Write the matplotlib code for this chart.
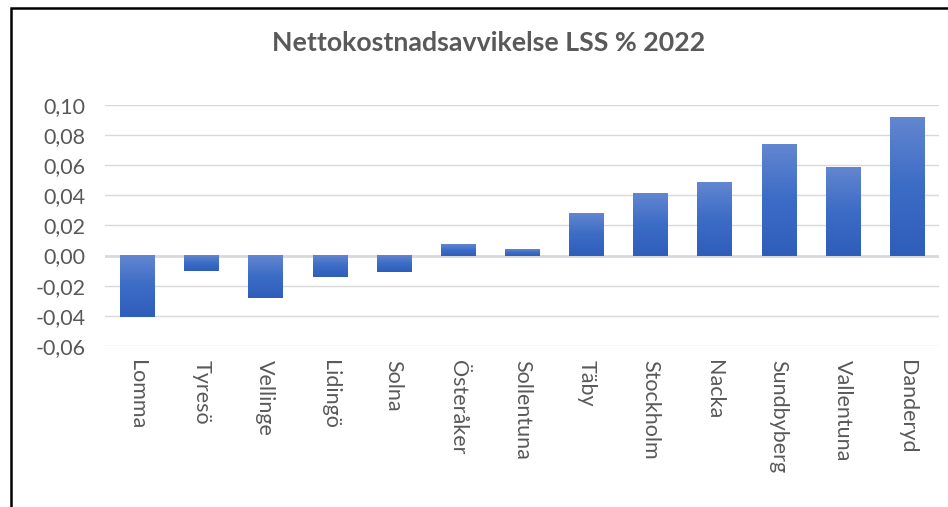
import numpy as np
import matplotlib.pyplot as plt
from matplotlib.colors import LinearSegmentedColormap
from matplotlib.patches import Rectangle
from matplotlib.ticker import FuncFormatter

kommuner = ["Lomma", "Tyresö", "Vellinge", "Lidingö", "Solna", "Österåker",
            "Sollentuna", "Täby", "Stockholm", "Nacka", "Sundbyberg",
            "Vallentuna", "Danderyd"]
avvikelse = [-0.041, -0.010, -0.028, -0.014, -0.011, 0.0075,
             0.0045, 0.028, 0.0415, 0.049, 0.0742, 0.0589, 0.0922]
yticks = [-0.06, -0.04, -0.02, 0.00, 0.02, 0.04, 0.06, 0.08, 0.10]
title = "Nettokostnadsavvikelse LSS % 2022"

plt.rcParams["font.family"] = ["Lato", "DejaVu Sans"]
txt = "#595959"
grid = "#d9d9d9"

fig = plt.figure(figsize=(9.48, 5.07), dpi=100, facecolor="white")
ax = fig.add_axes([105 / 948, 1 - 345.7 / 507, (939 - 105) / 948, (345.7 - 105.3) / 507])

cmap = LinearSegmentedColormap.from_list("bar", ["#2f5eba", "#3b6cc6", "#6386d0"])
grad = np.linspace(0, 1, 256).reshape(-1, 1)
width = 0.53
x = np.arange(len(kommuner))
for xi, v in zip(x, avvikelse):
    bottom, top = min(0, v), max(0, v)
    ax.imshow(grad, cmap=cmap, origin="lower", aspect="auto", interpolation="bicubic",
              extent=[xi - width / 2, xi + width / 2, bottom, top], zorder=3)

ax.set_xlim(-0.5, len(kommuner) - 0.5)
ax.set_ylim(-0.06, 0.10)
ax.set_yticks(yticks)
ax.yaxis.set_major_formatter(FuncFormatter(lambda v, p: f"{v:.2f}".replace(".", ",").replace("-0,00", "0,00")))
for y in yticks:
    ax.axhline(y, color=grid, linewidth=1.0 if y != 0 else 2.0, zorder=1)

ax.set_xticks(x)
ax.set_xticklabels(kommuner, rotation=270, va="top", ha="center")
ax.tick_params(axis="x", length=0, pad=10, labelsize=15.5, labelcolor=txt)
ax.tick_params(axis="y", length=0, pad=14, labelsize=15.5, labelcolor=txt)
for s in ax.spines.values():
    s.set_visible(False)

fig.text(489 / 948, 1 - 43 / 507, title, ha="center", va="center",
         fontsize=19.3, fontweight="bold", color=txt)

# chart border (partly cropped in the original screenshot)
fig.patches.append(Rectangle((11 / 948, -0.1), 1.2, 1 - 8 / 507 + 0.1, transform=fig.transFigure,
                             fill=False, edgecolor="black", linewidth=1.8))

fig.savefig("out.png", dpi=100)
